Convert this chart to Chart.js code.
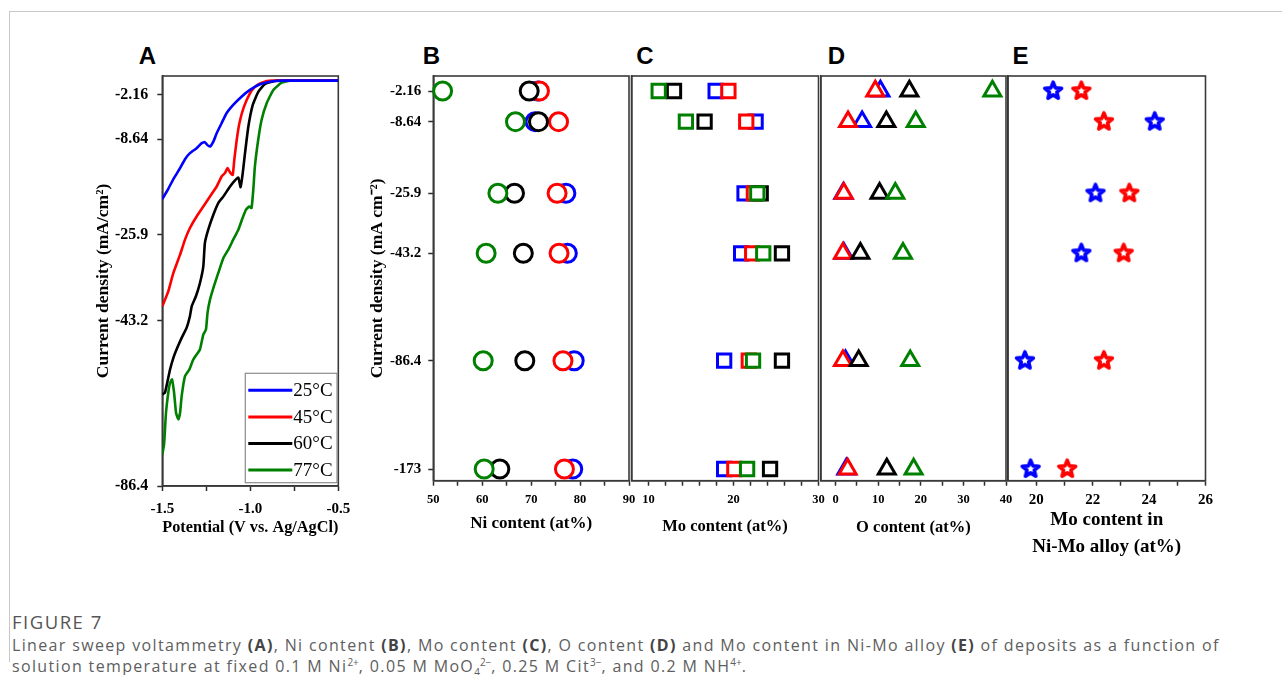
<!DOCTYPE html>
<html>
<head>
<meta charset="utf-8">
<title>Figure 7</title>
<script src="https://cdn.jsdelivr.net/npm/chart.js@4.4.1/dist/chart.umd.min.js"></script>
<style>
  html, body { margin: 0; padding: 0; background: #fff; }
  body { position: relative; width: 1282px; height: 675px; overflow: hidden; }
  .card { position: absolute; left: 9px; top: 11px; width: 1290px; height: 650px;
          border-top: 1px solid #c8c8c8; border-left: 1px solid #c8c8c8; }
  canvas { position: absolute; }
  .tag { position: absolute; font: bold 24px 'Liberation Sans', Arial, sans-serif; color: #000;
         transform: translate(-50%, -50%); line-height: 24px; }
  #capHead { position: absolute; left: 12px; top: 611px; font: 18.5px 'Open Sans', sans-serif;
             letter-spacing: 1.5px; line-height: 22px; color: #555; }
  #capBody { position: absolute; left: 12px; top: 635px; font: 16px 'Open Sans', sans-serif;
             letter-spacing: 1.35px; line-height: 21px; color: #5e5e5e; white-space: nowrap; }
  #capBody b { color: #444; }
  #capBody sup, #capBody sub { font-size: 10px; line-height: 0; letter-spacing: 0; }
</style>
</head>
<body>
<div class="card"></div>
<div class="tag" style="left:147.5px; top:56px;">A</div>
<div class="tag" style="left:431.5px; top:56px;">B</div>
<div class="tag" style="left:645px; top:56px;">C</div>
<div class="tag" style="left:836.5px; top:56px;">D</div>
<div class="tag" style="left:1020.5px; top:56px;">E</div>
<div id="capHead">FIGURE 7</div>
<div id="capBody">Linear sweep voltammetry <b>(A)</b>, Ni content <b>(B)</b>, Mo content <b>(C)</b>, O content <b>(D)</b> and Mo content in Ni-Mo alloy <b>(E)</b> of deposits as a function of<br>solution temperature at fixed 0.1 M Ni<sup>2+</sup>, 0.05 M MoO<sub>4</sub><sup>2&minus;</sup>, 0.25 M Cit<sup>3&minus;</sup>, and 0.2 M NH<sup>4+</sup>.</div>

<script>
// ---------- data ----------
const temperatures = ['25\u00B0C', '45\u00B0C', '60\u00B0C', '77\u00B0C'];
const seriesColors = ['#0000ff', '#ff0000', '#000000', '#008000'];

// applied current densities (mA cm^-2), one row per deposit
const densityRows = [-2.16, -8.64, -25.9, -43.2, -86.4, -173];
// labelled current densities on the LSV axis
const lsvDensityTicks = [-2.16, -8.64, -25.9, -43.2, -86.4];

// linear sweep voltammetry: potential (V vs Ag/AgCl) and current density (mA/cm2)
const lsvV25 = [-1.5, -1.466, -1.437, -1.399, -1.371, -1.343, -1.305, -1.276, -1.258, -1.245, -1.229, -1.210, -1.191, -1.163, -1.135, -1.097, -1.050, -1.002, -0.945, -0.888, -0.813, -0.5];
const lsvJ25 = [-19.46, -17.6, -15.85, -13.87, -12.25, -11.16, -10.26, -9.36, -9.18, -9.67, -9.97, -9.07, -7.76, -6.30, -4.84, -3.62, -2.41, -1.40, -0.55, -0.15, 0, 0];
const lsvV45 = [-1.5, -1.466, -1.437, -1.399, -1.371, -1.343, -1.305, -1.267, -1.229, -1.191, -1.163, -1.144, -1.129, -1.115, -1.100, -1.091, -1.077, -1.062, -1.036, -1.002, -0.973, -0.935, -0.878, -0.5];
const lsvJ45 = [-40.32, -37.3, -33.6, -29.92, -26.9, -24.69, -22.6, -20.8, -18.99, -17.19, -15.38, -14.77, -13.87, -14.66, -15.08, -12.37, -8.74, -6.30, -3.87, -1.90, -0.91, -0.30, 0, 0];
const lsvV60 = [-1.5, -1.485, -1.472, -1.456, -1.437, -1.415, -1.390, -1.362, -1.343, -1.333, -1.309, -1.286, -1.267, -1.258, -1.239, -1.210, -1.182, -1.153, -1.115, -1.087, -1.068, -1.055, -1.043, -1.030, -1.011, -0.986, -0.954, -0.916, -0.850, -0.5];
const lsvJ60 = [-62.49, -62.05, -59.44, -55.97, -52.92, -50.32, -47.71, -45.10, -42.33, -40.32, -38.31, -35.62, -32.28, -27.57, -25.0, -22.29, -20.18, -18.99, -17.19, -16.1, -15.56, -17.3, -14.77, -11.16, -6.79, -3.62, -1.66, -0.50, 0, 0];
const lsvV77 = [-1.5, -1.490, -1.479, -1.466, -1.456, -1.445, -1.433, -1.422, -1.409, -1.399, -1.390, -1.371, -1.346, -1.324, -1.305, -1.286, -1.267, -1.252, -1.243, -1.229, -1.207, -1.182, -1.153, -1.125, -1.097, -1.068, -1.044, -1.025, -1.006, -0.993, -0.983, -0.974, -0.955, -0.936, -0.907, -0.869, -0.822, -0.774, -0.5];
const lsvJ77 = [-78.13, -75.53, -67.27, -62.05, -59.44, -58.58, -62.05, -67.27, -69.01, -67.27, -62.93, -57.72, -55.97, -53.37, -52.06, -50.76, -46.85, -45.55, -41.65, -38.98, -36.3, -33.6, -30.59, -28.92, -26.9, -25.0, -22.89, -21.4, -20.8, -21.08, -17.78, -13.58, -8.74, -5.82, -3.37, -1.40, -0.30, 0, 0];

// deposit composition (at%) for each current density row
const ni25 = [71.4, 70.8, 77.1, 77.4, 78.8, 78.5];
const ni45 = [71.7, 75.6, 75.3, 75.7, 76.5, 76.8];
const ni60 = [69.6, 71.5, 66.6, 68.4, 68.7, 63.6];
const ni77 = [51.9, 66.8, 63.2, 60.8, 60.2, 60.4];

const mo25 = [17.9, 22.6, 21.3, 20.9, 18.9, 18.9];
const mo45 = [19.4, 21.5, 22.4, 22.2, 21.8, 20.1];
const mo60 = [13.0, 16.6, 23.2, 25.7, 25.7, 24.3];
const mo77 = [11.2, 14.4, 22.8, 23.5, 22.3, 21.6];

const ox25 = [10.5, 6.2, 1.8, 1.9, 2.3, 2.5];
const ox45 = [9.3, 2.9, 1.9, 1.7, 1.7, 2.8];
const ox60 = [17.3, 11.9, 10.3, 5.8, 5.4, 12.0];
const ox77 = [36.8, 18.8, 14.0, 15.8, 17.5, 18.3];

// Mo fraction in the metallic Ni-Mo part (at%)
const alloyMo25 = [20.6, 24.2, 22.1, 21.6, 19.6, 19.8];
const alloyMo45 = [21.6, 22.4, 23.3, 23.1, 22.4, 21.1];

// x-axis tick marks and labelled ticks
const potentialTicks = [-1.5, -1.25, -1.0, -0.75, -0.5];
const potentialLabels = [-1.5, -1.0, -0.5];
const niTicks = [50, 55, 60, 65, 70, 75, 80, 85, 90];
const niLabels = [50, 60, 70, 80, 90];
const moTicks = [10, 12, 14, 16, 18, 20, 22, 24, 26, 28, 30];
const moLabels = [10, 20, 30];
const oxTicks = [0, 5, 10, 15, 20, 25, 30, 35, 40];
const oxLabels = [0, 10, 20, 30, 40];
const alloyTicks = [20, 21, 22, 23, 24, 25, 26];
const alloyLabels = [20, 22, 24, 26];

// ---------- a piecewise-linear axis: each knot is [value, fraction of axis length] ----------
const AXIS_KNOTS = {
  lsv:  [[0.7, 1], [0, 0.9886], [-2.16, 0.9537], [-8.64, 0.8459], [-25.9, 0.6129], [-43.2, 0.4035], [-86.4, 0]],
  rows: [[1.0, 1], [-2.16, 0.9629], [-8.64, 0.8871], [-25.9, 0.7102], [-43.2, 0.5619], [-86.4, 0.2965], [-173, 0.0289], [-182.4, 0]]
};
const TICK_SETS = { lsv: lsvDensityTicks, rows: densityRows };

class KnotScale extends Chart.LinearScale {
  static id = 'knots';
  _knots() {
    return AXIS_KNOTS[this.options.knotSet].slice().sort((a, b) => a[0] - b[0]);
  }
  determineDataLimits() {
    const k = this._knots();
    this.min = k[0][0];
    this.max = k[k.length - 1][0];
  }
  buildTicks() {
    return TICK_SETS[this.options.knotSet].map(v => ({ value: v }));
  }
  getPixelForValue(value) {
    if (value === null || value === undefined || isNaN(value)) return NaN;
    const k = this._knots();
    let i = 0;
    while (i < k.length - 2 && value > k[i + 1][0]) i++;
    const [v0, f0] = k[i], [v1, f1] = k[i + 1];
    const dec = f0 + (value - v0) / (v1 - v0) * (f1 - f0);
    return this.getPixelForDecimal(dec);
  }
  getValueForPixel(pixel) {
    const dec = this.getDecimalForPixel(pixel);
    const k = this._knots();
    let i = 0;
    while (i < k.length - 2 && dec > k[i + 1][1]) i++;
    const [v0, f0] = k[i], [v1, f1] = k[i + 1];
    return v0 + (dec - f0) / (f1 - f0) * (v1 - v0);
  }
}
Chart.register(KnotScale);

// ---------- shared styling ----------
const SERIF = "'Liberation Serif', 'Times New Roman', serif";
const AXIS_COLOR = '#2b2b2b';

const framePlugin = {
  id: 'frame',
  beforeDatasetsDraw(chart) {
    const { ctx, chartArea: a } = chart;
    ctx.save();
    ctx.strokeStyle = '#3a3a3a';
    ctx.lineWidth = 1.6;
    ctx.strokeRect(a.left, a.top, a.right - a.left, a.bottom - a.top);
    ctx.restore();
  }
};

const boxLegend = {
  id: 'boxLegend',
  afterDatasetsDraw(chart, args, o) {
    const { ctx, chartArea: a } = chart;
    const x0 = a.right - o.insetRight - o.width;
    const y0 = a.bottom - o.insetBottom - o.height;
    ctx.save();
    ctx.fillStyle = '#fff';
    ctx.fillRect(x0, y0, o.width, o.height);
    ctx.strokeStyle = '#8c8c8c';
    ctx.lineWidth = 1.2;
    ctx.strokeRect(x0, y0, o.width, o.height);
    ctx.font = o.font;
    ctx.textBaseline = 'middle';
    chart.data.datasets.forEach((ds, i) => {
      const y = y0 + o.firstRow + i * o.rowStep;
      ctx.strokeStyle = ds.borderColor;
      ctx.lineWidth = 3;
      ctx.beginPath();
      ctx.moveTo(x0 + 3, y);
      ctx.lineTo(x0 + 47, y);
      ctx.stroke();
      ctx.fillStyle = '#000';
      ctx.fillText(ds.label, x0 + 48, y + 1);
    });
    ctx.restore();
  }
};

function mountCanvas(g) {
  const c = document.createElement('canvas');
  c.width = g.w; c.height = g.h;
  c.style.left = g.x + 'px'; c.style.top = g.y + 'px';
  c.style.width = g.w + 'px'; c.style.height = g.h + 'px';
  document.body.appendChild(c);
  return c;
}

function xAxis(g, min, max, marks, labels, fmt, title, titleSize, tickSize, tickPad, titleLH) {
  return {
    type: 'linear', position: 'bottom', min, max,
    afterBuildTicks: s => { s.ticks = marks.map(v => ({ value: v })); },
    afterFit: s => { s.height = g.y + g.h - g.area.b; },
    ticks: {
      autoSkip: false, maxRotation: 0, minRotation: 0, padding: tickPad, color: '#000',
      font: { family: SERIF, size: tickSize, weight: 'bold' },
      callback: v => labels.includes(v) ? fmt(v) : ''
    },
    grid: { display: true, drawOnChartArea: false, drawTicks: true, tickLength: 5,
            tickColor: AXIS_COLOR, tickWidth: 1.5 },
    border: { display: true, color: AXIS_COLOR, width: 1.6 },
    title: { display: true, text: title, color: '#000',
             font: { family: SERIF, size: titleSize, weight: 'bold', lineHeight: titleLH || 1.2 },
             padding: { top: 2, bottom: 4 } }
  };
}

function yAxis(g, knotSet, labelled, title, tickSize, tickPad) {
  return {
    type: 'knots', knotSet, position: 'left',
    afterFit: s => { s.width = labelled ? g.area.l - g.x : 0; },
    ticks: {
      display: labelled, autoSkip: false, padding: tickPad, color: '#000',
      font: { family: SERIF, size: tickSize, weight: 'bold' },
      callback: v => String(v)
    },
    grid: { display: labelled, drawOnChartArea: false, drawTicks: labelled, tickLength: 5,
            tickColor: AXIS_COLOR, tickWidth: 1.5 },
    border: { display: true, color: AXIS_COLOR, width: 1.6 },
    title: { display: !!title, text: title || '', color: '#000',
             font: { family: SERIF, size: 17.5, weight: 'bold' },
             padding: { top: 5, bottom: 0 } }
  };
}

function baseOptions(g, labelledY, scales, extraPlugins) {
  return {
    responsive: false, animation: false, devicePixelRatio: 1,
    layout: { padding: {
      top: g.area.t - g.y,
      right: g.x + g.w - g.area.r,
      left: labelledY ? 0 : g.area.l - g.x,
      bottom: 0 } },
    plugins: Object.assign({ legend: { display: false }, tooltip: { enabled: false }, title: { display: false } }, extraPlugins || {}),
    scales
  };
}

function pairs(xs, ys) { return xs.map((x, i) => ({ x, y: ys[i] })); }

// row-wise composition points: value on x, current density on y
function rowPoints(values) { return values.map((v, i) => ({ x: v, y: densityRows[i] })); }

function markerSets(valueSets, style, radius) {
  return valueSets.map((vals, i) => ({
    label: temperatures[i],
    data: rowPoints(vals),
    showLine: false,
    pointStyle: style,
    pointRadius: radius,
    pointHoverRadius: radius,
    pointBorderWidth: 3,
    pointBorderColor: seriesColors[i],
    pointBackgroundColor: '#ffffff',
    borderColor: seriesColors[i],
    order: valueSets.length - 1 - i,
    clip: false
  }));
}

function starSprite(color) {
  const s = 26, c = document.createElement('canvas');
  c.width = s; c.height = s;
  const g = c.getContext('2d');
  const R = 8.8, r = 3.9;
  g.beginPath();
  for (let i = 0; i < 10; i++) {
    const a = -Math.PI / 2 + i * Math.PI / 5;
    const rad = i % 2 ? r : R;
    g.lineTo(s / 2 + rad * Math.cos(a), s / 2 + rad * Math.sin(a));
  }
  g.closePath();
  g.fillStyle = '#fff';
  g.fill();
  g.lineJoin = 'round';
  g.lineWidth = 3.6;
  g.strokeStyle = color;
  g.stroke();
  return c;
}

// ---------- panel A: linear sweep voltammetry ----------
const gA = { x: 88, y: 40, w: 272, h: 502, area: { l: 162.3, t: 76, r: 338.3, b: 486 } };
new Chart(mountCanvas(gA), {
  type: 'line',
  data: {
    datasets: [[lsvV25, lsvJ25], [lsvV45, lsvJ45], [lsvV60, lsvJ60], [lsvV77, lsvJ77]].map((s, i) => ({
      label: temperatures[i],
      data: pairs(s[0], s[1]),
      borderColor: seriesColors[i],
      borderWidth: 2.6,
      pointRadius: 0,
      tension: 0.15,
      fill: false
    }))
  },
  options: baseOptions(gA, true, {
    x: xAxis(gA, -1.5, -0.5, potentialTicks, potentialLabels, v => v.toFixed(1),
             'Potential (V vs. Ag/AgCl)', 17.5, 15, 9),
    y: yAxis(gA, 'lsv', true, 'Current density (mA/cm\u00B2)', 16, 9)
  }, {
    boxLegend: { width: 91.7, height: 109.4, insetRight: 1.3, insetBottom: 3.3,
                 firstRow: 17, rowStep: 26.6, font: '19px ' + SERIF }
  }),
  plugins: [framePlugin, boxLegend]
});

// ---------- panel B: Ni content ----------
const gB = { x: 362, y: 40, w: 290, h: 498, area: { l: 433.3, t: 76, r: 629, b: 480.7 } };
new Chart(mountCanvas(gB), {
  type: 'scatter',
  data: { datasets: markerSets([ni25, ni45, ni60, ni77], 'circle', 9) },
  options: baseOptions(gB, true, {
    x: xAxis(gB, 50, 90, niTicks, niLabels, v => String(v), 'Ni content (at%)', 17, 12.5, 7),
    y: yAxis(gB, 'rows', true, 'Current density (mA cm\u207B\u00B2)', 15, 7)
  }),
  plugins: [framePlugin]
});

// ---------- panel C: Mo content ----------
const gC = { x: 619, y: 40, w: 222, h: 501, area: { l: 631.5, t: 76, r: 818.5, b: 480.7 } };
new Chart(mountCanvas(gC), {
  type: 'scatter',
  data: { datasets: markerSets([mo25, mo45, mo60, mo77], 'rect', 9.4) },
  options: baseOptions(gC, false, {
    x: xAxis(gC, 8, 30, moTicks, moLabels, v => String(v), 'Mo content (at%)', 16.5, 12.5, 7),
    y: yAxis(gC, 'rows', false, null, 15, 7)
  }),
  plugins: [framePlugin]
});

// ---------- panel D: O content ----------
const gD = { x: 808, y: 40, w: 222, h: 502, area: { l: 820.5, t: 76, r: 1006, b: 480.7 } };
new Chart(mountCanvas(gD), {
  type: 'scatter',
  data: { datasets: markerSets([ox25, ox45, ox60, ox77], 'triangle', 9.8) },
  options: baseOptions(gD, false, {
    x: xAxis(gD, -3.5, 40, oxTicks, oxLabels, v => String(v), 'O content (at%)', 16.5, 12.5, 7),
    y: yAxis(gD, 'rows', false, null, 15, 7)
  }),
  plugins: [framePlugin]
});

// ---------- panel E: Mo content in the Ni-Mo alloy ----------
const gE = { x: 995, y: 40, w: 235, h: 524, area: { l: 1006.5, t: 76, r: 1205.5, b: 480.7 } };
const eSets = markerSets([alloyMo25, alloyMo45], 'circle', 10);
eSets.forEach((ds, i) => { ds.pointStyle = starSprite(seriesColors[i]); });
new Chart(mountCanvas(gE), {
  type: 'scatter',
  data: { datasets: eSets },
  options: baseOptions(gE, false, {
    x: xAxis(gE, 19, 26, alloyTicks, alloyLabels, v => String(v),
             ['Mo content in', 'Ni-Mo alloy (at%)'], 19, 15, 5, 1.4),
    y: yAxis(gE, 'rows', false, null, 15, 7)
  }),
  plugins: [framePlugin]
});
</script>
</body>
</html>
